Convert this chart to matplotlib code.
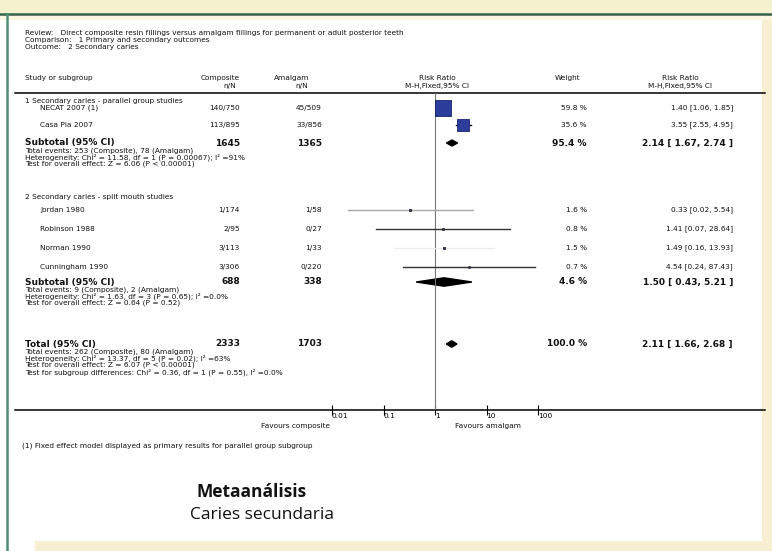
import matplotlib
matplotlib.use('Agg')
import matplotlib.pyplot as plt
from matplotlib.patches import Rectangle, Polygon
from matplotlib.ticker import NullLocator
from matplotlib.transforms import ScaledTranslation

# --- data ---
review = 'Review:   Direct composite resin fillings versus amalgam fillings for permanent or adult posterior teeth'
comparison = 'Comparison:   1 Primary and secondary outcomes'
outcome = 'Outcome:   2 Secondary caries'

groups = ['1 Secondary caries - parallel group studies',
          '2 Secondary caries - split mouth studies']

studies = ['NECAT 2007 (1)', 'Casa Pia 2007',
           'Jordan 1980', 'Robinson 1988', 'Norman 1990', 'Cunningham 1990']
comp_nN = ['140/750', '113/895', '1/174', '2/95', '3/113', '3/306']
amal_nN = ['45/509', '33/856', '1/58', '0/27', '1/33', '0/220']
weight = [59.8, 35.6, 1.6, 0.8, 1.5, 0.7]
rr = [1.40, 3.55, 0.33, 1.41, 1.49, 4.54]
lo = [1.06, 2.55, 0.02, 0.07, 0.16, 0.24]
hi = [1.85, 4.95, 5.54, 28.64, 13.93, 87.43]
line_col = ['black', 'black', '#a8a8a8', '#333333', '#ececec', '#333333']

sub_labels = ['Subtotal (95% CI)', 'Subtotal (95% CI)', 'Total (95% CI)']
sub_comp_N = ['1645', '688', '2333']
sub_amal_N = ['1365', '338', '1703']
sub_weight = [95.4, 4.6, 100.0]
sub_rr = [2.14, 1.50, 2.11]
sub_lo = [1.67, 0.43, 1.66]
sub_hi = [2.74, 5.21, 2.68]
sub_notes = [
    ['Total events: 253 (Composite), 78 (Amalgam)',
     'Heterogeneity: Chi² = 11.58, df = 1 (P = 0.00067); I² =91%',
     'Test for overall effect: Z = 6.06 (P < 0.00001)'],
    ['Total events: 9 (Composite), 2 (Amalgam)',
     'Heterogeneity: Chi² = 1.63, df = 3 (P = 0.65); I² =0.0%',
     'Test for overall effect: Z = 0.64 (P = 0.52)'],
    ['Total events: 262 (Composite), 80 (Amalgam)',
     'Heterogeneity: Chi² = 13.37, df = 5 (P = 0.02); I² =63%',
     'Test for overall effect: Z = 6.07 (P < 0.00001)',
     'Test for subgroup differences: Chi² = 0.36, df = 1 (P = 0.55), I² =0.0%'],
]

ticks = [0.01, 0.1, 1, 10, 100]
tick_labels = ['0.01', '0.1', '1', '10', '100']
favours = ['Favours composite', 'Favours amalgam']
footnote = '(1) Fixed effect model displayed as primary results for parallel group subgroup'
title1 = 'Metaanálisis'
title2 = 'Caries secundaria'

# --- layout (pixels) ---
W, H = 772, 551
group_y = [101, 197]
study_y = [108, 125, 210, 229, 248, 267]
sub_y = [143, 282, 344]
note_step = 6.8
axis_y = 410
rule_y = 93
x_name, x_study = 25, 40
x_comp, x_amal = 240, 322
x_w, x_rr = 587, 733
px_lo, px_hi = 332, 538   # pixel of 0.01 and 100

FONT = 'DejaVu Sans'
small = 5.3
big = 6.5

fig = plt.figure(figsize=(W / 100, H / 100), dpi=100)
ax = fig.add_axes([0, 0, 1, 1])
ax.set_xlim(0, W)
ax.set_ylim(H, 0)
ax.axis('off')

# slide frame
ax.add_patch(Rectangle((0, 0), W, 13, color='#f4f1cf', lw=0))
ax.add_patch(Rectangle((0, 15), W, 5, color='#faf6e2', lw=0))
ax.plot([0, W], [14, 14], color='#35604a', lw=1.8)
ax.plot([7, 7], [14, H], color='#4f8d78', lw=1.8)
ax.add_patch(Rectangle((762, 20), 10, H - 20, color='#f6efd2', lw=0))
ax.add_patch(Rectangle((35, 541), W - 35, 10, color='#f6efd2', lw=0))


def t(x, y, s, ha='left', size=small, bold=False, **kw):
    ax.text(x, y, s, ha=ha, va='center', fontsize=size, family=FONT,
            fontweight='bold' if bold else 'normal', color='#111111', **kw)


t(25, 33, review)
t(25, 40, comparison)
t(25, 47, outcome)

# column headers
t(25, 78, 'Study or subgroup')
t(220, 78, 'Composite', ha='center')
t(230, 86, 'n/N', ha='center')
t(292, 78, 'Amalgam', ha='center')
t(302, 86, 'n/N', ha='center')
t(437, 78, 'Risk Ratio', ha='center')
t(437, 86, 'M-H,Fixed,95% CI', ha='center')
t(568, 78, 'Weight', ha='center')
t(680, 78, 'Risk Ratio', ha='center')
t(680, 86, 'M-H,Fixed,95% CI', ha='center')
ax.plot([15, 765], [rule_y, rule_y], color='black', lw=1.1)

for g, gy in zip(groups, group_y):
    t(x_name, gy, g)

for i, name in enumerate(studies):
    y = study_y[i]
    t(x_study, y, name)
    t(x_comp, y, comp_nN[i], ha='right')
    t(x_amal, y, amal_nN[i], ha='right')
    t(x_w, y, f'{weight[i]:.1f} %', ha='right')
    t(x_rr, y, f'{rr[i]:.2f} [{lo[i]:.2f}, {hi[i]:.2f}]', ha='right')

for k, lab in enumerate(sub_labels):
    y = sub_y[k]
    t(x_name, y, lab, size=big, bold=True)
    t(x_comp, y, sub_comp_N[k], ha='right', size=big, bold=True)
    t(x_amal, y, sub_amal_N[k], ha='right', size=big, bold=True)
    t(x_w, y, f'{sub_weight[k]:.1f} %', ha='right', size=big, bold=True)
    t(x_rr, y, f'{sub_rr[k]:.2f} [ {sub_lo[k]:.2f}, {sub_hi[k]:.2f} ]',
      ha='right', size=big, bold=True)
    for j, note in enumerate(sub_notes[k]):
        t(x_name, y + 7.5 + j * note_step, note)

# bottom axis line across the table
ax.plot([15, 765], [axis_y, axis_y], color='black', lw=1.1)
t(330, 426, favours[0], ha='right')
t(455, 426, favours[1], ha='left')
t(22, 446, footnote)

ax.text(252, 492, title1, ha='center', va='center', fontsize=12.5,
        family='Open Sans', fontweight='bold', color='#111111')
ax.text(262, 515, title2, ha='center', va='center', fontsize=12.5,
        family='Open Sans', color='#111111')

# forest panel on a log scale
fx = fig.add_axes([px_lo / W, (H - axis_y) / H, (px_hi - px_lo) / W,
                   (axis_y - rule_y) / H])
fx.set_xscale('log')
fx.set_xlim(ticks[0], ticks[-1])
fx.set_ylim(axis_y, rule_y)
fx.patch.set_alpha(0)
for s in fx.spines.values():
    s.set_visible(False)
fx.set_yticks([])
fx.set_xticks(ticks)
fx.set_xticklabels(tick_labels, family=FONT, fontsize=small, ha='left')
shift = ScaledTranslation(2 / 100, 0, fig.dpi_scale_trans)
for lab in fx.get_xticklabels():
    lab.set_transform(lab.get_transform() + shift)
fx.xaxis.set_minor_locator(NullLocator())
fx.tick_params(axis='x', direction='inout', length=7, width=0.8, pad=-1)
fx.axvline(1, color='#777777', lw=0.8)

for i in range(len(studies)):
    y = study_y[i]
    fx.plot([lo[i], hi[i]], [y, y], color=line_col[i], lw=1.0, clip_on=False)
    ms = 1.45 * weight[i] ** 0.5
    fx.plot([rr[i]], [y], marker='s', ms=ms, mfc='#2b3c9b',
            mec='#18216e' if weight[i] > 10 else '#222222', mew=0.6,
            clip_on=False)

dh = [3.0, 4.2, 3.2]
for k in range(len(sub_labels)):
    y = sub_y[k]
    fx.add_patch(Polygon([(sub_lo[k], y), (sub_rr[k], y - dh[k]),
                          (sub_hi[k], y), (sub_rr[k], y + dh[k])],
                         closed=True, color='black', clip_on=False))

fig.savefig('out.png', dpi=100)
